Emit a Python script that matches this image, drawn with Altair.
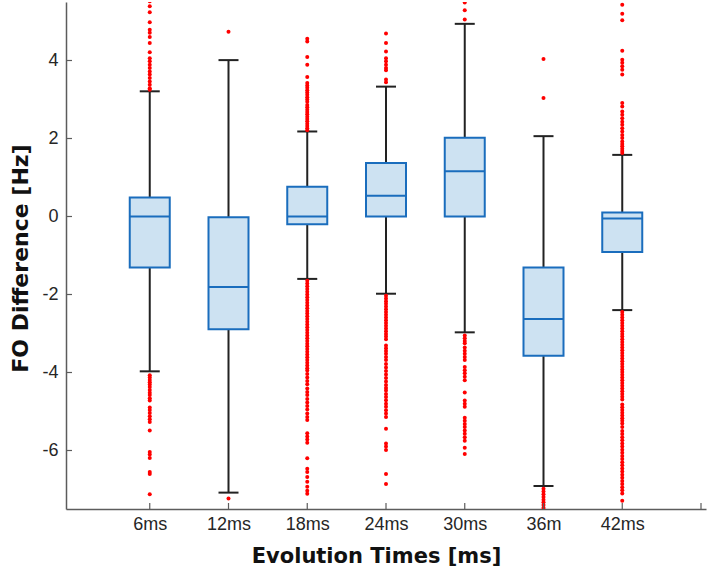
import altair as alt
import pandas as pd

categories = ["6ms", "12ms", "18ms", "24ms", "30ms", "36m", "42ms"]

whisker_low = [-3.97, -7.08, -1.60, -1.98, -2.97, -6.91, -2.40]
q1 = [-1.31, -2.89, -0.20, 0.00, 0.00, -3.57, -0.91]
median = [0.00, -1.81, 0.00, 0.53, 1.16, -2.63, -0.05]
q3 = [0.49, -0.02, 0.76, 1.37, 2.02, -1.31, 0.10]
whisker_high = [3.21, 4.01, 2.18, 3.33, 4.94, 2.06, 1.58]

out_6ms = [5.52, 5.39, 5.24, 4.98, 4.79, 4.71, 4.60, 4.45, 4.21, 4.06, 3.98, 3.89,
           3.81, 3.72, 3.64, 3.55, 3.46, 3.38, 3.29, 3.25,
           -4.07, -4.13, -4.19, -4.25, -4.31, -4.37, -4.45, -4.52, -4.58, -4.66, -4.72,
           -4.90, -4.96, -5.04, -5.12, -5.20, -5.27, -5.49, -6.04, -6.10, -6.19,
           -6.55, -6.60, -7.12]
out_12ms = [4.74, -7.23]
out_18ms = [4.56, 4.49, 4.09, 3.89, 3.58, 3.42, 3.36, 3.30, 3.24, 3.18, 3.12, 3.06,
            3.00, 2.94, 2.86, 2.80, 2.74, 2.68, 2.62, 2.56, 2.50, 2.44, 2.38, 2.32,
            2.26, 2.21,
            -1.65, -1.72, -1.79, -1.86, -1.93, -2.00, -2.07, -2.14, -2.21, -2.28,
            -2.35, -2.42, -2.49, -2.56, -2.63, -2.70, -2.77, -2.84, -2.91, -2.98,
            -3.05, -3.12, -3.19, -3.26, -3.33, -3.40, -3.47, -3.54, -3.61, -3.68,
            -3.75, -3.82, -3.89, -3.95, -4.04, -4.13, -4.22, -4.30, -4.41, -4.50,
            -4.58, -4.68, -4.77, -4.86, -4.95, -5.05, -5.14, -5.22, -5.56, -5.64,
            -5.72, -5.80, -6.20, -6.47, -6.55, -6.68, -6.80, -6.93, -7.03, -7.11]
out_24ms = [4.69, 4.45, 4.23, 4.06, 3.98, 3.89, 3.81, 3.75, 3.51, 3.44,
            -2.03, -2.10, -2.17, -2.24, -2.31, -2.38, -2.45, -2.52, -2.59, -2.66,
            -2.73, -2.80, -2.87, -2.94, -3.01, -3.08, -3.15, -3.31, -3.38, -3.45,
            -3.52, -3.60, -3.68, -3.78, -3.87, -3.96, -4.05, -4.14, -4.23, -4.32,
            -4.40, -4.46, -4.55, -4.63, -4.71, -4.80, -4.88, -4.97, -5.05, -5.14,
            -5.44, -5.82, -5.90, -5.99, -6.60, -6.86]
out_30ms = [5.49, 5.29, 5.05,
            -3.05, -3.12, -3.19, -3.25, -3.36, -3.44, -3.52, -3.60, -3.68, -3.86,
            -3.94, -4.02, -4.11, -4.20, -4.51, -4.72, -4.80, -4.88, -5.16, -5.24,
            -5.32, -5.40, -5.49, -5.57, -5.66, -5.75, -5.93, -6.09]
out_36ms = [4.04, 3.04,
            -6.98, -7.05, -7.12, -7.19, -7.26, -7.33, -7.40, -7.47]
out_42ms = [5.43, 5.20, 5.03, 4.25, 4.02, 3.94, 3.85, 3.76, 3.64, 2.91, 2.82, 2.69,
            2.61, 2.52, 2.43, 2.35, 2.26, 2.18, 2.09, 2.01, 1.92, 1.86, 1.80, 1.74,
            1.68, 1.63,
            -2.45, -2.52, -2.59, -2.66, -2.73, -2.80, -2.87, -2.94, -3.01, -3.08,
            -3.15, -3.22, -3.29, -3.36, -3.43, -3.50, -3.57, -3.64, -3.71, -3.78,
            -3.85, -3.92, -3.99, -4.06, -4.13, -4.20, -4.27, -4.34, -4.41, -4.48,
            -4.55, -4.62, -4.69, -4.82, -4.89, -4.96, -5.03, -5.10, -5.17, -5.24,
            -5.31, -5.40, -5.50, -5.58, -5.66, -5.74, -5.82, -5.90, -5.98, -6.06,
            -6.14, -6.22, -6.30, -6.38, -6.46, -6.54, -6.62, -6.70, -6.78, -6.86,
            -6.94, -7.02, -7.10, -7.29]
outliers = [out_6ms, out_12ms, out_18ms, out_24ms, out_30ms, out_36ms, out_42ms]

y_tick_values = [-6, -4, -2, 0, 2, 4]

# ---- tables ----
box_df = pd.DataFrame({
    "cat": categories,
    "pos": list(range(1, len(categories) + 1)),
    "lo": whisker_low, "q1": q1, "med": median, "q3": q3, "hi": whisker_high,
})
out_df = pd.DataFrame(
    [{"cat": c, "pos": i + 1, "v": v}
     for i, (c, vals) in enumerate(zip(categories, outliers)) for v in vals]
)
xt_df = pd.DataFrame({"p": list(range(1, len(categories) + 2))})
yt_df = pd.DataFrame({"t": y_tick_values})

W, H = 640, 507
AXIS_COLOR = "#5c5c5c"
BLUE = "#1a6dbd"
FILL = "#cde2f2"
BLACK = "#222222"

label_arr = "[''," + ",".join("'" + c + "'" for c in categories) + ",'']"

xscale = alt.Scale(domain=[0, len(categories) + 1], nice=False, zero=False)
yscale = alt.Scale(domain=[-7.5, 5.5], nice=False, zero=False)

xaxis = alt.Axis(
    values=list(range(1, len(categories) + 2)),
    labelExpr=label_arr + "[datum.value]",
    title="Evolution Times [ms]",
    titleX=310, titleY=47, titleBaseline="middle", titleAlign="center",
    labelPadding=6,
)
yaxis = alt.Axis(
    values=y_tick_values,
    labelExpr="'' + datum.value",
    title="FO Difference [Hz]",
    titleX=-46, titleY=256, titleAngle=270, titleBaseline="middle", titleAlign="center",
    titleFontSize=22,
    labelPadding=8,
)

X = lambda f: alt.X(f, type="quantitative", scale=xscale, axis=xaxis)
Y = lambda f: alt.Y(f, type="quantitative", scale=yscale, axis=yaxis)

base = alt.Chart(box_df)

whisk = base.mark_rule(color=BLACK, strokeWidth=2).encode(x=X("pos"), y=Y("lo"), y2="hi")
cap_lo = base.mark_tick(orient="horizontal", size=20, thickness=2, color=BLACK, opacity=1).encode(
    x=X("pos"), y=Y("lo"))
cap_hi = base.mark_tick(orient="horizontal", size=20, thickness=2, color=BLACK, opacity=1).encode(
    x=X("pos"), y=Y("hi"))
box = base.mark_bar(size=40, fill=FILL, stroke=BLUE, strokeWidth=2, orient="vertical").encode(
    x=X("pos"), y=Y("q1"), y2="q3")
med = base.mark_tick(orient="horizontal", size=40, thickness=2, color=BLUE, opacity=1).encode(
    x=X("pos"), y=Y("med"))

pts = alt.Chart(out_df).mark_circle(size=16, color="#ff0000", opacity=1, clip=True).encode(
    x=X("pos"), y=Y("v"))

xticks = alt.Chart(xt_df).mark_rule(color=AXIS_COLOR, strokeWidth=1.2).encode(
    x=X("p"), y=alt.value(H), y2=alt.value(H - 6))
yticks = alt.Chart(yt_df).mark_rule(color=AXIS_COLOR, strokeWidth=1.2).encode(
    y=Y("t"), x=alt.value(0), x2=alt.value(6))

chart = alt.layer(whisk, cap_lo, cap_hi, box, med, pts, xticks, yticks).properties(
    width=W, height=H,
    autosize=alt.AutoSizeParams(type="none"),
    padding={"left": 66, "top": 2, "right": 2, "bottom": 71},
    background="white",
).configure_view(stroke=None).configure_axis(
    grid=False,
    ticks=False,
    domainColor=AXIS_COLOR,
    domainWidth=1.5,
    labelFont="Liberation Sans",
    labelFontSize=18,
    labelColor="#262626",
    titleFont="DejaVu Sans",
    titleFontSize=21,
    titleFontWeight="bold",
    titleColor="#111111",
)

chart.save("out.html", embed_options={"renderer": "svg", "actions": False})
